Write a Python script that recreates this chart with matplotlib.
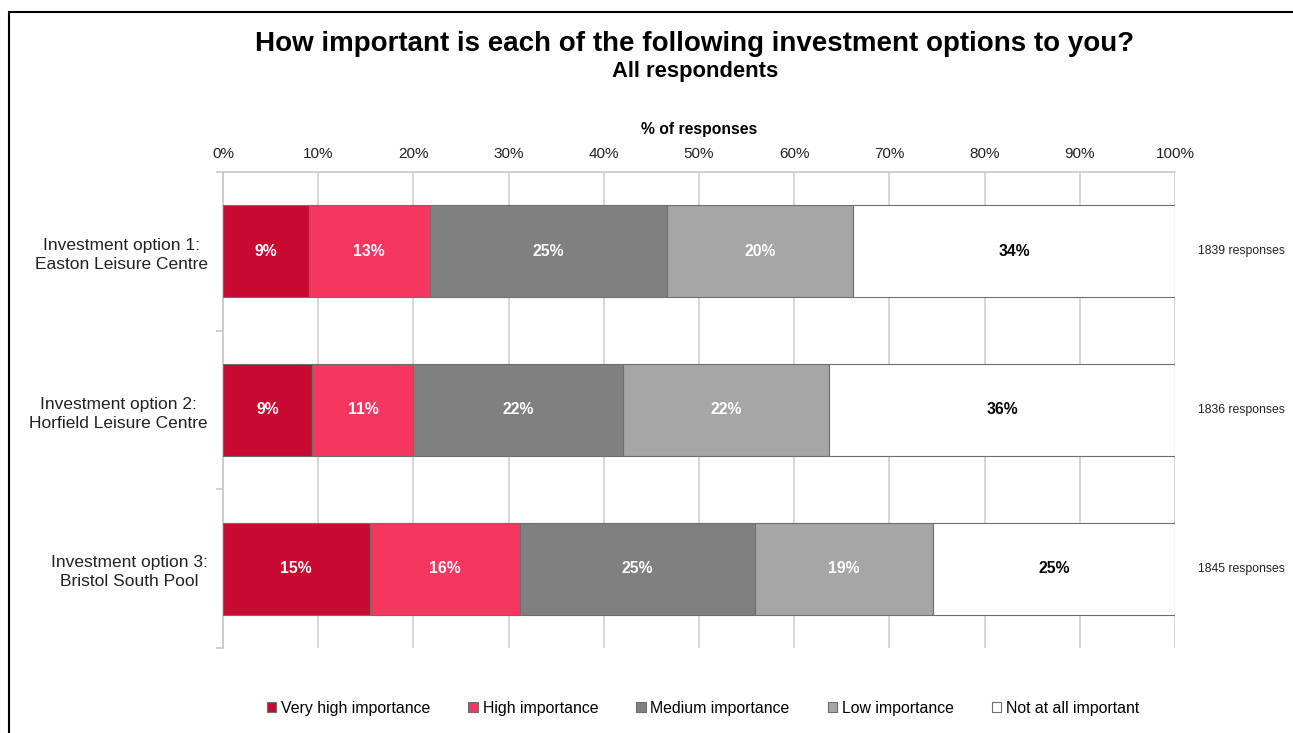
"""Stacked horizontal bar chart: importance of investment options."""

import matplotlib

matplotlib.use("Agg")
import matplotlib.pyplot as plt
from matplotlib.patches import Rectangle

plt.rcParams["font.family"] = ["Liberation Sans", "DejaVu Sans"]

options = [
    "Investment option 1:\nEaston Leisure Centre",
    "Investment option 2:\nHorfield Leisure Centre",
    "Investment option 3:\nBristol South Pool",
]
responses = [1839, 1836, 1845]
levels = [
    "Very high importance",
    "High importance",
    "Medium importance",
    "Low importance",
    "Not at all important",
]
very_high = [9.0, 9.4, 15.4]
high = [12.7, 10.6, 15.8]
medium = [24.9, 22.0, 24.7]
low = [19.6, 21.7, 18.7]
not_at_all = [33.8, 36.3, 25.4]
shares = [very_high, high, medium, low, not_at_all]

colors = ["#C80A30", "#F5365E", "#808080", "#A6A6A6", "#FFFFFF"]
text_colors = ["white", "white", "white", "white", "black"]

fig = plt.figure(figsize=(12.93, 7.33), dpi=100)
ax = fig.add_axes([223 / 1293, 1 - 648 / 733, 952 / 1293, 476 / 733])

ypos = list(range(len(options)))
left = [0.0] * len(options)
for vals, name, col, tcol in zip(shares, levels, colors, text_colors):
    bars = ax.barh(ypos, vals, left=left, height=0.58, color=col,
                   edgecolor="#6E6E6E", linewidth=0.8, label=name, zorder=3)
    for b, v in zip(bars, vals):
        ax.text(b.get_x() + b.get_width() / 2, b.get_y() + b.get_height() / 2,
                f"{round(v):.0f}%", ha="center", va="center", color=tcol,
                fontsize=11.3, fontweight="bold", zorder=4)
    left = [l + v for l, v in zip(left, vals)]

ax.set_xlim(0, 100)
ax.set_ylim(2.5, -0.5)
ax.xaxis.tick_top()
ax.set_xticks(range(0, 101, 10))
ax.set_xticklabels([f"{t}%" for t in range(0, 101, 10)], fontsize=11)
ax.tick_params(axis="x", length=0, pad=8, colors="#222222")
ax.set_xlabel("% of responses", fontsize=11.3, fontweight="bold", labelpad=9)
ax.xaxis.set_label_position("top")
ax.grid(axis="x", color="#D0D0D0", linewidth=1.2, zorder=0)

ax.set_yticks(ypos)
ax.set_yticklabels(options, fontsize=12.5, multialignment="center")
for lbl in ax.get_yticklabels():
    lbl.set_linespacing(1.35)
ax.set_yticks([-0.5, 0.5, 1.5, 2.5], minor=True)
ax.tick_params(axis="y", which="major", length=0, pad=11, colors="#222222")
ax.tick_params(axis="y", which="minor", length=5, color="#C8C8C8", width=1.2)

for side in ("right", "bottom"):
    ax.spines[side].set_visible(False)
for side in ("top", "left"):
    ax.spines[side].set_color("#C8C8C8")
    ax.spines[side].set_linewidth(1.2)

for y, n in zip(ypos, responses):
    ax.text(102.4, y, f"{n} responses", ha="left", va="center", fontsize=8.8,
            color="#222222")

fig.text(695 / 1293, 1 - 44 / 733, "How important is each of the following investment options to you?",
         ha="center", va="center", fontsize=20, fontweight="bold")
fig.text(695 / 1293, 1 - 72 / 733, "All respondents", ha="center", va="center",
         fontsize=15.8, fontweight="bold")

fig.legend(loc="center", bbox_to_anchor=(703 / 1293, 1 - 708 / 733), ncol=5,
           frameon=False, fontsize=11.4, handlelength=0.6, handleheight=0.6,
           handletextpad=0.3, columnspacing=2.4)

fig.patches.append(Rectangle((9 / 1293, -0.1), 1.2, 1 - 12 / 733 + 0.1,
                             transform=fig.transFigure, fill=False,
                             edgecolor="black", linewidth=1.5))

fig.savefig("out.png", dpi=100)
